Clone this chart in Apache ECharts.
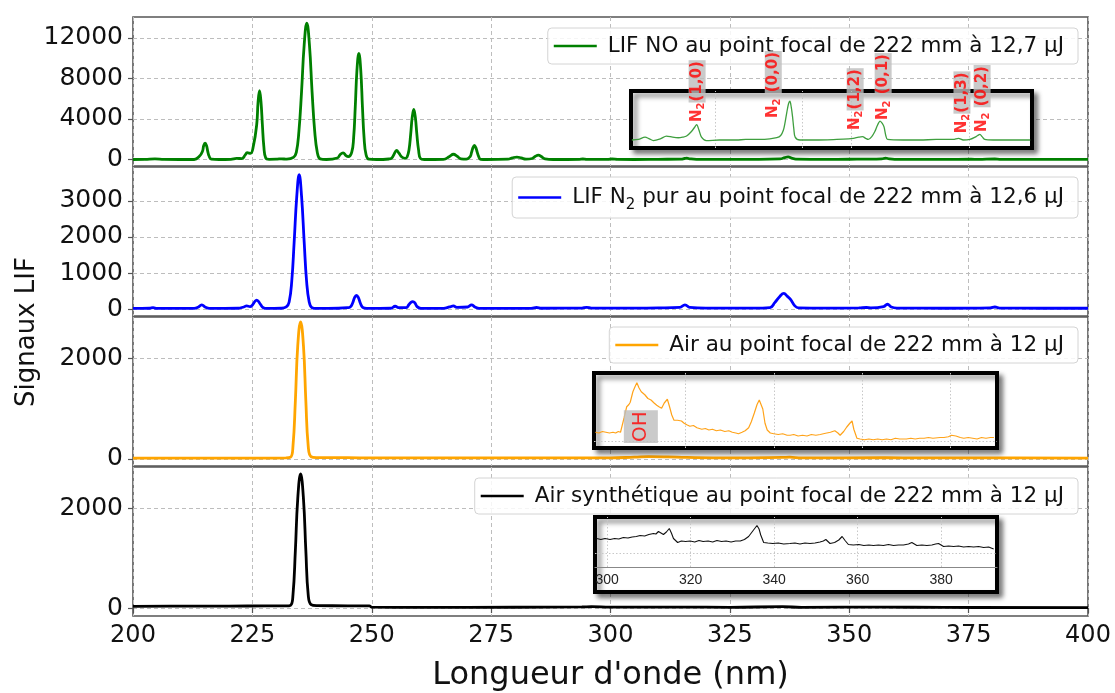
<!DOCTYPE html>
<html><head><meta charset="utf-8">
<script src="https://cdn.jsdelivr.net/npm/echarts@6/dist/echarts.min.js"></script>
<style>html,body{margin:0;padding:0;background:#fff}#c{width:1115px;height:693px}</style>
</head><body><div id="c"></div>
<script>
// ---------- data ----------
const xTicks = [200, 225, 250, 275, 300, 325, 350, 375, 400];
const seriesNames = [
  'LIF NO au point focal de 222 mm à 12,7 µJ',
  'LIF N₂ pur au point focal de 222 mm à 12,6 µJ',
  'Air au point focal de 222 mm à 12 µJ',
  'Air synthétique au point focal de 222 mm à 12 µJ'
];
const yTicks1 = [0, 4000, 8000, 12000];
const yTicks2 = [0, 1000, 2000, 3000];
const yTicks3 = [0, 2000];
const yTicks4 = [0, 2000];

const noData = [[200,0],[202.5,10],[204.6,60],[206.5,10],[212.8,0],[213.9,320],[214.55,810],[214.8,1360],[215.1,1620],[215.4,1360],[215.65,810],[215.95,320],[216.4,40],[218,0],[220.5,20],[221.7,110],[222.8,90],[223.5,450],[223.9,680],[224.6,600],[225.2,1300],[225.9,3400],[226.2,5700],[226.5,6780],[226.8,5700],[227.1,3400],[227.4,1300],[227.8,150],[228.5,20],[230.2,40],[231.1,70],[232.2,30],[233.6,200],[234.2,700],[234.75,2800],[235.3,6700],[235.85,11300],[236.4,13450],[236.95,11300],[237.5,6700],[238.05,2800],[238.6,700],[239.2,60],[240.5,0],[242.8,150],[243.4,500],[244.0,660],[244.6,380],[245.1,280],[245.8,700],[246.2,2100],[246.55,5200],[246.9,8800],[247.3,10450],[247.7,8800],[248.05,5200],[248.4,2100],[248.8,500],[249.4,30],[251,0],[253.6,50],[254.2,150],[254.7,550],[255.2,890],[255.7,620],[256.3,250],[257.0,120],[257.4,250],[257.8,950],[258.15,2470],[258.47,4150],[258.8,4930],[259.13,4150],[259.45,2470],[259.8,950],[260.2,100],[261,0],[265,20],[266.3,300],[267.1,520],[267.9,320],[268.7,60],[269.8,40],[270.6,280],[270.9,700],[271.2,1170],[271.5,1390],[271.8,1170],[272.1,700],[272.4,280],[272.8,20],[274,0],[278.5,30],[279.5,170],[280.4,240],[281.3,150],[282.3,30],[283.6,100],[284.3,330],[284.9,430],[285.5,300],[286.3,60],[288,0],[293.5,20],[294.2,50],[295,20],[299.5,20],[300.3,50],[301.5,15],[305,0],[310,20],[314.8,40],[315.5,100],[316,130],[316.6,70],[318,20],[325,20],[331,20],[335.5,60],[336.5,180],[337.2,260],[337.9,150],[338.8,30],[345,20],[350,25],[353.5,40],[354.5,30],[356.8,60],[357.6,140],[358.4,60],[359.5,20],[370,15],[375.5,30],[377,15],[380.5,50],[381.5,20],[390,10],[400,10]];

const n2Data = [[200,20],[203.5,25],[204.2,40],[205,20],[212.8,20],[213.6,50],[214.4,120],[215.2,50],[216,20],[222,25],[223.2,60],[223.8,90],[224.5,70],[225.1,130],[225.5,210],[225.9,250],[226.3,210],[226.7,130],[227.3,40],[228,20],[231,25],[232.1,60],[232.7,200],[233.25,780],[233.75,1860],[234.3,3130],[234.8,3725],[235.3,3130],[235.85,1860],[236.35,780],[236.9,200],[237.5,40],[238.5,20],[243,25],[244.9,40],[245.5,60],[246.0,170],[246.4,320],[246.8,380],[247.2,320],[247.6,170],[248.1,50],[249,20],[254,25],[254.9,80],[255.6,40],[257.2,40],[257.8,130],[258.2,190],[258.6,210],[259,180],[259.5,70],[260.3,20],[265,20],[266.3,60],[267.1,90],[267.8,50],[270.1,60],[270.9,120],[271.6,60],[272.5,20],[283.5,25],[284.5,45],[285.5,25],[294,30],[295,50],[296,30],[305,30],[310,35],[314.5,50],[315.6,120],[316.6,50],[320,30],[330,30],[333.4,45],[334.4,180],[335.5,360],[336.3,436],[337.0,360],[337.7,270],[338.6,90],[339.4,35],[345,30],[352,35],[353.6,45],[354.5,35],[357.2,70],[358,136],[358.8,60],[360,30],[370,25],[379.5,35],[380.5,60],[381.5,30],[390,25],[400,25]];

const airData = [[200,15],[210,15],[220,18],[228,18],[232,20],[233.0,35],[233.5,250],[234.0,1150],[234.5,2250],[235.1,2727],[235.7,2250],[236.2,1150],[236.7,250],[237.3,45],[238.5,28],[245,25],[250,22],[260,20],[280,20],[300,22],[305,35],[308,45],[312,40],[316,30],[325,22],[336,30],[337.5,35],[340,22],[357.5,25],[365,20],[380,20],[400,18]];

const synthData = [[200,35],[210,38],[220,40],[228,42],[232,42],[233.0,55],[233.5,260],[234.0,1150],[234.5,2200],[235.1,2700],[235.7,2200],[236.2,1150],[236.7,260],[237.3,70],[238.5,48],[245,45],[249.5,42],[250,18],[260,15],[280,16],[294,22],[296,28],[300,18],[315,20],[325,15],[336,28],[340,15],[357,20],[370,12],[400,10]];

// inset spectra (arbitrary units, 0 = bottom of the inset frame)
const insetNO = [[301.0,14],[302.5,15],[304.0,19],[305.0,16],[305.9,13],[307.5,16],[308.9,21],[310.3,19],[311.6,18],[312.6,19],[313.5,21],[314.6,29],[315.3,36],[315.8,41],[316.3,32],[316.9,19],[318,13],[321,14],[324.9,14],[327,15],[330.3,15],[332.5,16],[334.1,18],[335.0,22],[335.6,31],[336.0,45],[336.4,63],[336.8,78],[337.1,82],[337.4,72],[337.7,55],[338.0,33],[338.3,19],[339.4,14],[343,14],[347.8,15],[350.5,16],[351.6,17],[352.8,19],[353.7,20],[354.4,17],[355.0,15],[355.8,20],[356.5,29],[357.1,40],[357.7,47],[358.2,43],[358.6,37],[359.0,22],[359.4,15],[363,14],[366.8,14],[370.5,15],[374.4,15],[375.6,17],[376.7,14],[378.2,15],[379.4,19],[380.0,22],[380.5,24],[381.0,20],[381.6,15],[383.5,14],[385.8,14],[389,14],[392,14]];
const insetAir = [[299.6,21],[300.4,20],[301.2,22],[302.0,21],[302.8,20],[303.6,21],[304.2,20],[304.8,22],[305.3,21],[305.6,23],[306.1,40],[306.7,55],[307.2,58],[307.5,61],[308.1,75],[308.6,82],[309.0,87],[309.5,80],[310.0,75],[310.8,71],[311.5,66],[312.2,64],[312.9,60],[313.5,57],[314.0,55],[314.6,53],[315.2,60],[315.9,65],[316.4,55],[316.9,44],[317.4,37],[318.2,37],[319.1,36],[319.7,33],[320.3,31],[321,29],[321.8,30],[322.6,27],[323.7,25],[324.5,26],[325.3,24],[326.1,25],[327,23],[327.9,24],[328.9,22],[329.8,23],[330.6,21],[331.4,20],[332,19],[332.8,21],[333.5,23],[334.3,27],[334.9,35],[335.6,47],[336.2,58],[336.7,64],[337.1,65],[337.5,52],[338.0,33],[338.5,24],[339.2,20],[340,19],[341,18],[342,19],[343,17],[343.7,17],[344.5,18],[345.5,16],[346.5,17],[347.5,16],[348.5,18],[349.5,17],[350.5,18],[351.2,19],[352,20],[352.8,21],[353.8,23],[354.5,20],[355,17],[355.8,22],[356.5,28],[357.2,33],[357.7,36],[358.1,25],[358.8,13],[359.5,12],[360.5,11],[361.5,12],[362.5,11],[363.5,12],[364.5,11],[365.5,12],[366.5,11],[367.5,13],[368.5,12],[370,12],[371,13],[372,12],[373,13],[374,13],[375,14],[376,13],[377.6,14],[378.5,14],[379.5,15],[380.2,17],[380.6,18],[381.2,16],[382.2,14],[383,13],[384,14],[385,13],[386,12],[387,14],[388,13],[389,14],[389.8,14]];
const insetSynth = [[297.5,57],[298.5,55],[299.5,57],[300.7,55],[301.8,57],[302.8,56],[303.9,59],[305,58],[306,60],[307,61],[307.9,63],[309,62],[310,65],[311.1,67],[311.7,66],[312.3,71],[312.9,68],[313.5,65],[314.2,70],[314.9,77],[315.4,68],[315.9,57],[316.9,49],[317.8,52],[318.8,51],[319.9,52],[321,50],[322,53],[323,51],[324.2,52],[325.3,50],[326.3,53],[327.4,51],[328.5,52],[329.7,50],[330.8,52],[331.9,52],[332.9,55],[333.9,61],[334.9,72],[335.9,83],[336.4,76],[336.8,64],[337.5,49],[338.5,48],[339.7,47],[341,48],[342.3,46],[343.8,47],[345,48],[346.2,46],[347.4,48],[348.6,47],[349.8,48],[351,50],[351.8,52],[352.4,55],[353.4,47],[354.5,49],[355.5,54],[356.3,61],[357,53],[357.8,45],[359,44],[360.3,45],[361.5,43],[362.7,44],[363.8,43],[365,44],[366.2,43],[367.4,45],[368.6,43],[369.8,44],[371,44],[372.2,46],[373,49],[374.2,43],[375.4,44],[376.6,43],[377.8,44],[378.7,46],[379.4,47],[380.6,41],[381.8,42],[383,41],[384.2,42],[385.4,40],[386.6,41],[387.8,40],[389,41],[390.2,39],[391.4,40],[392.6,36]];
const insetSynthTicks = [300, 320, 340, 360, 380];
const insetNOGridX = [320, 340, 351, 378];
const insetAirGridX = [320, 340, 360, 380];

// band annotations on the NO inset: wavelength, level of label start, band name
const bandX = [315.9, 333.3, 352.0, 358.4, 376.4, 381.0];
const bandY = [45.6, 52.6, 31.6, 49, 26, 28];
const bandNames = ['(1,0)', '(0,0)', '(1,2)', '(0,1)', '(1,3)', '(0,2)'];
const bandSpace = [false, true, false, true, false, true];
const ohPos = [309.9, 6.7];

// ---------- chart ----------
const FONT = 'DejaVu Sans';
const colors = ['#008000', '#0000ff', '#ffa500', '#000000'];
const tops = [17, 167, 317, 467];
const heights = [149, 149, 149, 150];
const yMin = [-640, -190, -140, -160];
const yMax = [14050, 3940, 2826, 2840];
const yTickSets = [yTicks1, yTicks2, yTicks3, yTicks4];
const mainData = [noData, n2Data, airData, synthData];
const gridLine = { color: '#bdbdbd', width: 1, type: [4, 3] };

const grids = tops.map((t, i) => ({
  left: 133, width: 955, top: t, height: heights[i],
  show: true, backgroundColor: 'rgba(0,0,0,0)', borderColor: '#555', borderWidth: 1.6
}));
const insetFrame = { show: true, backgroundColor: '#fff', borderColor: '#000', borderWidth: 4,
  shadowBlur: 5, shadowColor: 'rgba(0,0,0,0.45)', shadowOffsetX: 4, shadowOffsetY: 4, z: 5 };
grids.push(Object.assign({ left: 631, top: 91, width: 401, height: 57 }, insetFrame));   // 4
grids.push(Object.assign({ left: 594, top: 373, width: 403, height: 75 }, insetFrame));  // 5
grids.push(Object.assign({ left: 595, top: 517, width: 402, height: 75 }, insetFrame));  // 6 frame
grids.push({ left: 595, top: 517, width: 402, height: 50, show: false, z: 6 });          // 7 plot area

const xAxes = tops.map((t, i) => ({
  type: 'value', gridIndex: i, min: xTicks[0], max: xTicks[xTicks.length - 1], interval: 25,
  axisLine: { show: false },
  axisTick: { show: i === 3, length: 5, lineStyle: { color: '#555', width: 1.2 } },
  axisLabel: { show: i === 3, fontSize: 24, fontFamily: FONT, color: '#111', margin: 8 },
  splitLine: { show: true, lineStyle: gridLine },
  name: i === 3 ? "Longueur d'onde (nm)" : '',
  nameLocation: 'middle', nameGap: 44,
  nameTextStyle: { fontSize: 32, fontFamily: FONT, color: '#111' }
}));
xAxes.push({ type: 'value', gridIndex: 4, min: 300.8, max: 392.4, show: false, z: 6 });
xAxes.push({ type: 'value', gridIndex: 5, min: 299.3, max: 390.5, show: false, z: 6 });
xAxes.push({ type: 'value', gridIndex: 6, min: 297.1, max: 393.4, show: false, z: 6 });
xAxes.push({ type: 'value', gridIndex: 7, min: 297.1, max: 393.4, z: 7, position: 'bottom',
  axisLine: { show: true, onZero: false, lineStyle: { color: '#888', width: 1 } },
  axisTick: { show: false },
  axisLabel: { show: true, customValues: insetSynthTicks, fontSize: 14, fontFamily: 'Liberation Sans', color: '#222', margin: 6 },
  splitLine: { show: false } });

const yAxes = tops.map((t, i) => ({
  type: 'value', gridIndex: i, min: yMin[i], max: yMax[i],
  axisLine: { show: false },
  axisTick: { show: true, length: 5, customValues: yTickSets[i], lineStyle: { color: '#555', width: 1.2 } },
  axisLabel: { show: true, customValues: yTickSets[i], fontSize: 25, fontFamily: FONT, color: '#111', margin: 10,
    formatter: v => String(v) },
  splitLine: { show: true, lineStyle: gridLine }
}));
yAxes.push({ type: 'value', gridIndex: 4, min: 0, max: 100, show: false, z: 6 });
yAxes.push({ type: 'value', gridIndex: 5, min: 0, max: 100, show: false, z: 6 });
yAxes.push({ type: 'value', gridIndex: 6, min: 0, max: 100, show: false, z: 6 });
yAxes.push({ type: 'value', gridIndex: 7, min: 0, max: 100, show: false, z: 6 });

const series = mainData.map((d, i) => ({
  type: 'line', name: seriesNames[i], xAxisIndex: i, yAxisIndex: i, data: d,
  symbol: 'none', showSymbol: false, smooth: 0.45,
  lineStyle: { color: colors[i], width: 2.8 }, itemStyle: { color: colors[i] }, z: 3
}));

const dotted = { color: '#c8c8c8', width: 1, type: [1.5, 2] };
function gridMarks(idx, xs, ys, yFrom, yTo) {
  const data = xs.map(x => (yFrom == null ? { xAxis: x } :
    [{ coord: [x, yFrom] }, { coord: [x, yTo] }]));
  ys.forEach(y => data.push({ yAxis: y }));
  return { type: 'line', xAxisIndex: idx, yAxisIndex: idx, data: [], z: 6, silent: true,
    markLine: { silent: true, symbol: 'none', label: { show: false }, lineStyle: dotted, animation: false, data } };
}
series.push(gridMarks(4, insetNOGridX, []));
series.push(gridMarks(5, insetAirGridX, [9]));
series.push(gridMarks(7, insetSynthTicks, [28], 0, 100));

series.push({ type: 'line', xAxisIndex: 4, yAxisIndex: 4, data: insetNO, symbol: 'none', smooth: 0.3,
  lineStyle: { color: '#3f9f3f', width: 1.3 }, z: 7, silent: true });
series.push({ type: 'line', xAxisIndex: 5, yAxisIndex: 5, data: insetAir, symbol: 'none',
  lineStyle: { color: '#ffa31a', width: 1.2 }, z: 7, silent: true });
series.push({ type: 'line', xAxisIndex: 7, yAxisIndex: 7, data: insetSynth, symbol: 'none',
  lineStyle: { color: '#111', width: 1.1 }, z: 7, silent: true });

const red = '#ff0000';
series.push({
  type: 'scatter', xAxisIndex: 4, yAxisIndex: 4, z: 9, symbolSize: 1, silent: true, clip: false,
  itemStyle: { color: 'rgba(0,0,0,0)' },
  data: bandX.map((x, i) => ({ value: [x, bandY[i]], band: bandNames[i], sp: bandSpace[i] })),
  label: {
    show: true, position: 'inside', rotate: 90, align: 'left', verticalAlign: 'middle',
    formatter: p => '{n|N}{s|2}' + (p.data.sp ? '{w| }' : '') + '{g|' + p.data.band + '}',
    rich: {
      n: { fontSize: 15, fontWeight: 'bold', fontFamily: FONT, color: red, lineHeight: 19 },
      w: { fontSize: 15, fontWeight: 'bold', fontFamily: FONT, color: red, lineHeight: 19 },
      s: { fontSize: 10, fontWeight: 'bold', fontFamily: FONT, color: red, lineHeight: 12, verticalAlign: 'bottom' },
      g: { fontSize: 15, fontWeight: 'bold', fontFamily: FONT, color: red, lineHeight: 19,
           backgroundColor: '#bdbdbd', padding: [1, 1, 1, 1] }
    }
  }
});
series.push({
  type: 'scatter', xAxisIndex: 5, yAxisIndex: 5, z: 9, symbolSize: 1, silent: true, clip: false,
  itemStyle: { color: 'rgba(0,0,0,0)' },
  data: [ohPos],
  label: { show: true, position: 'inside', rotate: 90, align: 'left', verticalAlign: 'middle',
    formatter: 'OH', fontSize: 20, fontFamily: FONT, color: red, lineHeight: 24,
    backgroundColor: '#bdbdbd', padding: [5, 1, 5, 1] }
});

const legendBase = {
  orient: 'horizontal', right: 37, itemWidth: 43, itemHeight: 2.5, icon: 'rect', padding: [5, 14, 5, 6],
  backgroundColor: 'rgba(255,255,255,0.85)', borderColor: '#d4d4d4', borderWidth: 1, borderRadius: 4,
  selectedMode: false,
  textStyle: { fontSize: 21.5, fontFamily: FONT, color: '#111', lineHeight: 26, padding: [0, 0, 0, 6] }
};
const legendTops = [28, 177, 327, 478];
const legends = seriesNames.map((n, i) => Object.assign({}, legendBase, { data: [n], top: legendTops[i] }));
legends[1].formatter = name => {
  const parts = name.split('₂');
  return '{t|' + parts[0] + '}{s|2}{t|' + parts[1] + '}';
};
legends[1].textStyle = Object.assign({}, legendBase.textStyle, {
  lineHeight: 31,
  rich: {
    t: { fontSize: 21.5, fontFamily: FONT, color: '#111', lineHeight: 31 },
    s: { fontSize: 15, fontFamily: FONT, color: '#111', lineHeight: 17, verticalAlign: 'bottom' }
  }
});

const chart = echarts.init(document.getElementById('c'));
chart.setOption({
  animation: false,
  backgroundColor: '#fff',
  grid: grids, xAxis: xAxes, yAxis: yAxes, series: series, legend: legends,
  graphic: [{
    type: 'text', x: 27, y: 332, rotation: Math.PI / 2, silent: true,
    style: { text: 'Signaux LIF', fontSize: 26, fontFamily: FONT, fill: '#111', align: 'center', verticalAlign: 'middle' }
  }]
});
</script></body></html>
